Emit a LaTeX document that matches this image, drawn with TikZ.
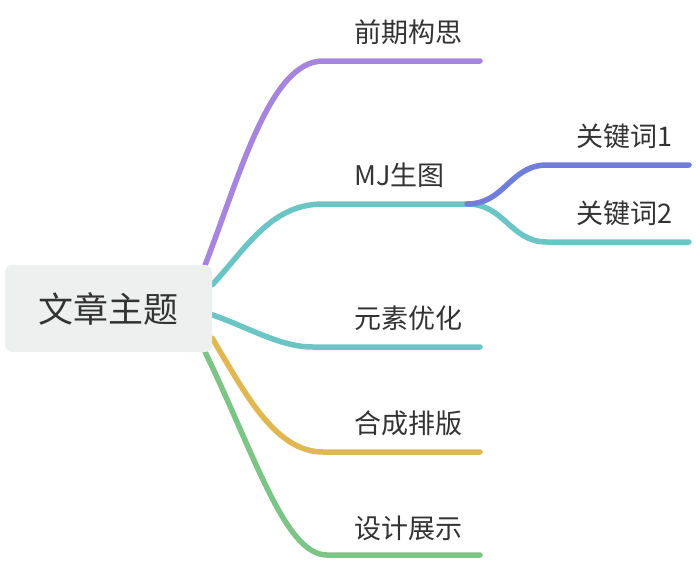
\documentclass[tikz,border=0pt]{standalone}
\usepackage{fontspec}
\setmainfont{Noto Sans CJK SC}
\usetikzlibrary{backgrounds}
\definecolor{cPurple}{HTML}{A585DE}
\definecolor{cTeal}{HTML}{6CC5C5}
\definecolor{cBlue}{HTML}{6F7DDB}
\definecolor{cYellow}{HTML}{E0B750}
\definecolor{cGreen}{HTML}{7DC587}
\definecolor{cBox}{HTML}{EEF0EF}
\definecolor{cText}{HTML}{333333}
\begin{document}
\begin{tikzpicture}[x=1pt,y=-1pt,
  branch/.style={line width=5.5pt, line cap=round},
  lbl/.style={anchor=west, inner sep=0pt, font=\fontsize{27}{30}\selectfont, text=cText},
  rootbox/.style={fill=cBox, rounded corners=7pt, minimum width=207pt, minimum height=87pt,
    inner sep=0pt, font=\fontsize{35}{40}\selectfont, text=cText}
]
\useasboundingbox (0,0) rectangle (696,560);
\node[rootbox] (root) at (108.5,308.5) {文章主题};

\node[lbl] (t1) at (354,32) {前期构思};
\node[lbl] (t2) at (354,175) {MJ生图};
\node[lbl] (t21) at (576,136) {关键词1};
\node[lbl] (t22) at (576,213) {关键词2};
\node[lbl] (t3) at (354,318) {元素优化};
\node[lbl] (t4) at (354,423) {合成排版};
\node[lbl] (t5) at (354,528) {设计展示};

\coordinate (e1) at (480,61);
\coordinate (j2) at (467,204);
\coordinate (e21) at (689,165);
\coordinate (e22) at (689,242);
\coordinate (e3) at (480,347);
\coordinate (e4) at (480,452);
\coordinate (e5) at (480,555);

\begin{scope}[on background layer]
\draw[branch,cPurple] ([xshift=-7pt]root.north east) .. controls (240,175) and (270,61) .. (323,61) -- (e1);
\draw[branch,cTeal] ([yshift=-20pt]root.north east) .. controls (245,250) and (270,204) .. (323,204) -- (j2);
\draw[branch,cTeal] (j2) .. controls (505,204) and (510,242) .. (547,242) -- (e22);
\draw[branch,cBlue] (j2) .. controls (505,204) and (510,165) .. (547,165) -- (e21);
\draw[branch,cTeal] ([yshift=-50pt]root.north east) .. controls (250,328) and (280,347) .. (313,347) -- (e3);
\draw[branch,cYellow] ([yshift=14pt]root.south east) .. controls (245,393) and (275,452) .. (323,452) -- (e4);
\draw[branch,cGreen] ([xshift=-7pt]root.south east) .. controls (255,455) and (285,555) .. (327,555) -- (e5);
\end{scope}
\end{tikzpicture}
\end{document}
